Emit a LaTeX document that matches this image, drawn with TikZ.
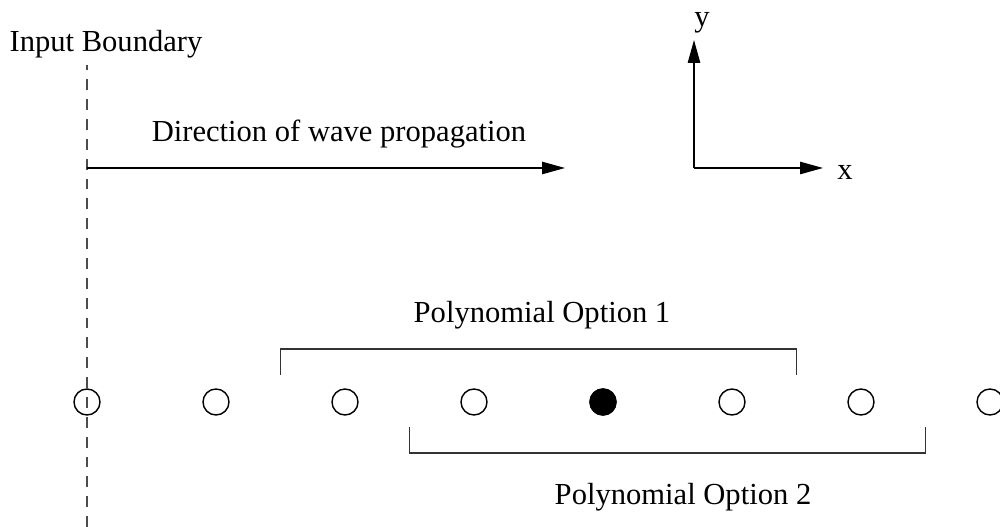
\documentclass[tikz,border=0pt]{standalone}
\usepackage{fontspec}
\setmainfont{Liberation Serif}
\usetikzlibrary{positioning, calc, arrows.meta}

\tikzset{
    label text/.style={font=\fontsize{17.4}{20}\selectfont, anchor=base, inner sep=0pt},
    point/.style={circle, draw, line width=0.8pt, minimum size=0.52cm, inner sep=0pt},
    boundary/.style={dash pattern=on 6.2pt off 5.1pt, line width=1pt, black!70},
    wave arrow/.style={-{Triangle[length=13pt, width=7pt]}, line width=0.8pt},
    bracket/.style={line width=0.8pt, black!80}
}

\begin{document}
\begin{tikzpicture}

    \useasboundingbox (0,0) rectangle (20,10.54);

    % Input boundary
    \coordinate (bottom) at (1.74, 0);
    \coordinate (top) at (1.74, 9.24);
    \draw[boundary] (bottom) -- (top);
    \node[label text] (inlabel) at (2.12, 9.5) {Input Boundary};

    % Direction of wave propagation
    \coordinate (start) at (1.74, 7.18);
    \coordinate (tip) at (11.3, 7.18);
    \draw[wave arrow] (start) -- (tip);
    \node[label text] (dirlabel) at (6.78, 7.7) {Direction of wave propagation};

    % Axes
    \coordinate (origin) at (13.88, 7.18);
    \coordinate (ytip) at (13.88, 9.74);
    \coordinate (xtip) at (16.46, 7.18);
    \draw[wave arrow] (origin) -- (ytip);
    \draw[wave arrow] (origin) -- (xtip);
    \node[label text] (ylabel) at (14.04, 10.0) {y};
    \node[label text] (xlabel) at (16.9, 6.94) {x};

    % Grid points
    \foreach \i in {0,...,7}
        \node[point] (p\i) at (1.74 + 2.58*\i, 2.5) {};
    \node[point, fill=black] at (p4) {};

    % Polynomial option 1
    \draw[bracket] ($(p1)!0.5!(p2) + (0,0.54)$) -- ++(0,0.52)
        -- ($(p5)!0.5!(p6) + (0,1.06)$) -- ++(0,-0.52);
    \node[label text] (opt1) at (10.84, 4.08) {Polynomial Option 1};

    % Polynomial option 2
    \draw[bracket] ($(p2)!0.5!(p3) + (0,-0.5)$) -- ++(0,-0.52)
        -- ($(p6)!0.5!(p7) + (0,-1.02)$) -- ++(0,0.52);
    \node[label text] (opt2) at (13.66, 0.44) {Polynomial Option 2};

\end{tikzpicture}
\end{document}
